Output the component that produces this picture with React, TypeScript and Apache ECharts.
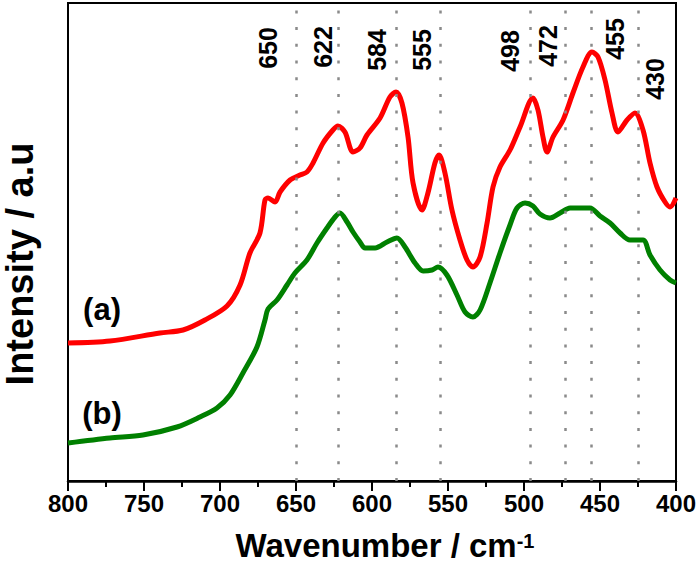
import React, { useEffect, useRef } from 'react';
import * as echarts from 'echarts';

// Spectrum (a) — red
const waveA = [800, 772.4, 739.5, 724.3, 709.9, 695.4, 686.8, 680.3, 673.7, 670.4, 668.4, 663.8, 660.5, 653.9, 647.4, 642.8, 638.8, 632.2, 625.7, 622.4, 617.8, 612.5, 607.9, 603.3, 594.7, 588.2, 584.2, 580.3, 576.3, 573.0, 567.1, 563.2, 558.6, 555.9, 552.0, 547.4, 542.1, 537.5, 533.6, 528.9, 524.3, 520.4, 515.8, 509.2, 502.6, 494.1, 490.8, 487.5, 484.9, 480.9, 474.3, 467.8, 461.2, 455.3, 451.3, 446.7, 442.1, 438.2, 432.2, 427.0, 421.7, 417.1, 412.5, 407.2, 403.9, 400];
const intensityA = [138, 140, 148, 151, 161, 175, 196, 228, 248, 281, 283, 279, 289, 301, 306, 309, 318, 338, 351, 355, 349, 329, 333, 346, 363, 384, 389, 378, 344, 298, 271, 288, 318, 326, 308, 271, 241, 221, 214, 224, 258, 294, 314, 331, 354, 383, 371, 344, 329, 344, 361, 388, 414, 429, 424, 401, 368, 349, 361, 368, 351, 318, 294, 279, 274, 283];

// Spectrum (b) — green
const waveB = [800, 772.4, 750.7, 728.3, 713.2, 702.0, 693.4, 684.9, 675.7, 670.4, 668.4, 662.5, 655.9, 650.7, 642.8, 636.2, 629.6, 624.3, 621.1, 616.4, 612.5, 607.9, 604.6, 598.0, 590.1, 583.6, 578.3, 571.7, 566.4, 560.5, 556.6, 550.7, 544.1, 538.8, 533.6, 528.9, 522.4, 515.8, 509.2, 504.6, 499.3, 494.1, 489.5, 482.9, 476.3, 469.7, 456.6, 450.0, 443.4, 436.8, 430.3, 421.7, 417.1, 410.5, 403.9, 400];
const intensityB = [38, 43, 46, 54, 64, 73, 86, 108, 134, 161, 172, 181, 196, 208, 221, 238, 253, 264, 268, 259, 249, 239, 233, 233, 239, 243, 234, 218, 210, 211, 214, 206, 186, 169, 164, 171, 198, 228, 256, 273, 278, 275, 267, 263, 268, 273, 273, 265, 258, 248, 241, 241, 226, 211, 201, 198];

// Peak reference lines and their labels
const peakLines = [650, 622, 584, 555, 496, 473, 456, 425];
const peakLabels = ['650', '622', '584', '555', '498', '472', '455', '430'];
const peakLabelWave = [668.4, 632.2, 597.0, 567.1, 509.2, 484.2, 440.1, 413.8];
const peakLabelLevel = [433, 434, 431, 431, 430, 435, 442, 402];

// Curve tags
const curveTags = ['(a)', '(b)'];
const curveTagWave = [777.6, 777.6];
const curveTagLevel = [172, 68];

const xTicks = [400, 450, 500, 550, 600, 650, 700, 750, 800];

export default function App() {
  const ref = useRef<HTMLDivElement>(null);
  useEffect(() => {
    if (!ref.current) return;
    const chart = echarts.init(ref.current, null, { renderer: 'svg' });
    const font = '"Liberation Sans", Arial, Helvetica, sans-serif';
    chart.setOption({
      animation: false,
      backgroundColor: '#fff',
      grid: {
        left: 68, right: 24, top: 3, bottom: 81,
        outerBoundsMode: 'none',
        containLabel: false,
        show: true, borderColor: '#000', borderWidth: 2,
        backgroundColor: 'transparent',
      },
      xAxis: {
        type: 'value',
        min: xTicks[0],
        max: xTicks[xTicks.length - 1],
        interval: 50,
        inverse: true,
        axisLine: { show: true, onZero: false, lineStyle: { color: '#000', width: 2.5 } },
        axisTick: { show: true, inside: false, length: 10, lineStyle: { color: '#000', width: 2 } },
        minorTick: { show: true, splitNumber: 2, length: 6, lineStyle: { color: '#000', width: 2 } },
        splitLine: { show: false },
        axisLabel: { color: '#000', fontSize: 24, fontWeight: 'bold', fontFamily: font, margin: 10 },
        name: '{m|Wavenumber / cm}{s|-1}',
        nameLocation: 'middle',
        nameGap: 50,
        nameTextStyle: {
          padding: [0, 0, 0, 26],
          lineHeight: 28,
          rich: {
            m: { fontSize: 33, lineHeight: 28, fontWeight: 'bold', fontFamily: font, color: '#000' },
            s: { fontSize: 20, lineHeight: 28, fontWeight: 'bold', fontFamily: font, color: '#000', verticalAlign: 'top' },
          },
        },
      },
      yAxis: {
        type: 'value',
        min: 0,
        max: 478,
        axisLine: { show: true, lineStyle: { color: '#000', width: 2 } },
        axisTick: { show: false },
        axisLabel: { show: false },
        splitLine: { show: false },
        name: 'Intensity / a.u',
        nameLocation: 'middle',
        nameGap: 29,
        nameTextStyle: {
          fontSize: 38, fontWeight: 'bold', fontFamily: font, color: '#000',
          padding: [0, 44, 0, 0],
        },
      },
      series: [
        {
          name: '(a)',
          type: 'line',
          data: waveA.map((w, i) => [w, intensityA[i]]),
          smooth: 0.3,
          symbol: 'none',
          lineStyle: { color: '#ff0000', width: 5 },
          z: 3,
        },
        {
          name: '(b)',
          type: 'line',
          data: waveB.map((w, i) => [w, intensityB[i]]),
          smooth: 0.3,
          symbol: 'none',
          lineStyle: { color: '#008000', width: 5 },
          z: 3,
        },
        {
          name: 'peaks',
          type: 'scatter',
          symbolSize: 0,
          silent: true,
          z: 6,
          itemStyle: { opacity: 1 },
          data: peakLabelWave.map((w, i) => ({ value: [w, peakLabelLevel[i]], name: peakLabels[i] })),
          label: {
            show: true, position: 'inside', rotate: 90, formatter: '{b}',
            fontSize: 25, fontWeight: 'bold', fontFamily: font, color: '#000',
          },
          markLine: {
            silent: true,
            symbol: ['none', 'none'],
            label: { show: false },
            lineStyle: { color: '#8a8a8a', type: [3, 13.7], width: 2.5, opacity: 1 },
            data: peakLines.map((v) => ({ xAxis: v })),
          },
        },
        {
          name: 'tags',
          type: 'scatter',
          symbolSize: 0,
          silent: true,
          z: 6,
          itemStyle: { opacity: 1 },
          data: curveTagWave.map((w, i) => ({ value: [w, curveTagLevel[i]], name: curveTags[i] })),
          label: {
            show: true, position: 'inside', formatter: '{b}',
            fontSize: 31, fontWeight: 'bold', fontFamily: font, color: '#000',
          },
        },
      ],
    });
    return () => chart.dispose();
  }, []);
  return (
    <div
      ref={ref}
      style={{ position: 'fixed', left: 0, top: 0, width: 700, height: 562, background: '#fff' }}
    />
  );
}
